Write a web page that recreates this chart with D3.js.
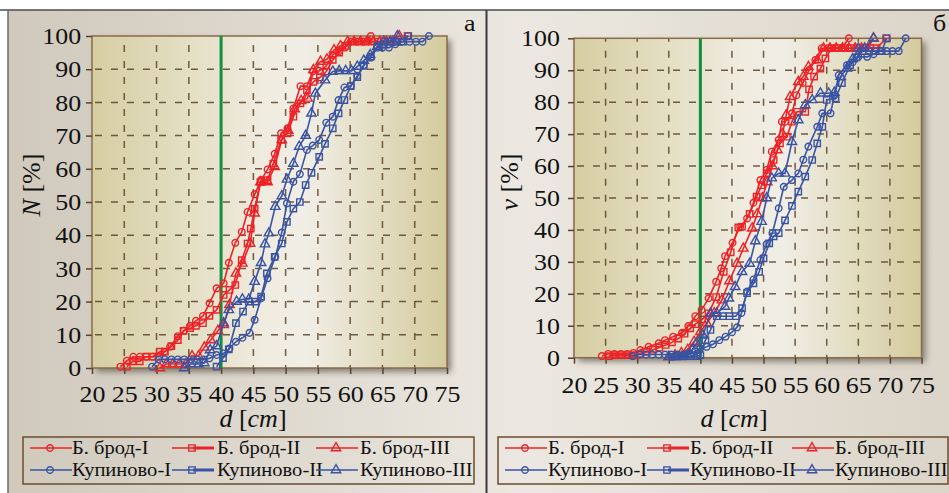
<!DOCTYPE html>
<html>
<head>
<meta charset="utf-8">
<script src="https://cdn.jsdelivr.net/npm/d3@7"></script>
<style>
body { margin: 0; background: #fff; }
svg { display: block; }
</style>
</head>
<body>
<script>
// tick labels
var xTicks = [20, 25, 30, 35, 40, 45, 50, 55, 60, 65, 70, 75];
var yTicks = [0, 10, 20, 30, 40, 50, 60, 70, 80, 90, 100];
var limitD = 40;

var seriesNames = ['Б. брод-I', 'Б. брод-II', 'Б. брод-III', 'Купиново-I', 'Купиново-II', 'Купиново-III'];

// panel a: N [%] vs d [cm]
var bb1N = [[24.4,0.4],[25.4,2.2],[26.4,3.4],[27.4,3.4],[28.4,3.4],[29.4,3.4],[30.4,3.4],[31.2,4.9],[32.1,6.4],[33.3,9.6],[34.2,11.2],[35.2,12.7],[36.1,14.2],[37.2,15.7],[38.2,19.5],[39.3,24],[40.4,25.5],[41.2,31.7],[42.2,37.7],[43.2,41],[44.1,47],[45.2,52.3],[46.2,56.6],[47.2,59.8],[48.3,64.5],[49.3,70.7],[50.3,72.2],[51.2,78.2],[52.3,84.9],[53.3,84.9],[54.2,89.3],[55.2,89.5],[56.3,91],[57.3,94.3],[58.3,95.5],[59.2,96.5],[60.1,98.3],[61.1,98.3],[62.1,98.3],[63.2,100]];
var bb2N = [[25.4,0.4],[26.3,2],[27.4,2],[28.4,3.4],[29.4,3.4],[30.5,4.9],[31.3,4.9],[32.3,6.6],[33.3,8.4],[34.2,11.2],[35.2,12],[36.1,12.7],[37.2,13.5],[38.2,15.7],[39.3,17.5],[40.4,22],[41.3,23.5],[42.2,25],[43.2,32.5],[44.1,37.5],[44.6,42],[45.2,48],[46.1,56],[47.2,56.6],[48.1,61.6],[49.3,68.7],[50.3,70.7],[51.2,75.7],[52.3,79.7],[53.3,83.7],[54.3,86.2],[55.3,87.5],[56.3,89.3],[57.3,92.8],[58.3,95],[59.3,97],[60.3,98.3],[61.3,98.3],[62.3,98.3],[63.3,98.3],[64.3,98.3],[65.3,98.3],[66.3,98.3],[67.3,98.3],[68.9,100]];
var bb3N = [[30.5,0],[31.5,1.2],[32.5,1.2],[33.5,1.2],[34.5,1.2],[35.5,3.6],[36.5,3.6],[37.4,6.2],[38.4,8.4],[39.5,11.2],[40.4,13],[41.3,19],[42.3,28.5],[43.3,31.5],[44.5,37.5],[45.2,46.6],[46.1,56],[47.2,56],[48.3,60.6],[49.4,68.7],[50.4,71.5],[51.4,78],[52.4,80.5],[53.4,81.2],[54.3,89.8],[55.4,92.3],[56.4,93],[57.5,95.8],[58.5,97],[59.6,98.3],[60.6,98.3],[61.6,98.3],[62.6,98.3],[63.6,98.3],[64.6,98.3],[65.6,98.3],[66.6,98.3],[67.6,100]];
var ku1N = [[29.3,0.4],[30.3,2.6],[31.3,2.6],[32.3,2.6],[33.3,2.6],[34.3,2.6],[35.3,2.6],[36.3,2.6],[37.3,2.6],[38.2,2.9],[39.3,3.9],[40.4,4.4],[41.3,5.9],[42.3,7.9],[43.3,9.1],[44.4,10.6],[45.2,14.5],[46.2,21],[47.2,27],[48.4,33.5],[49.4,40.8],[50.2,49.6],[51.2,56.1],[52.2,58.4],[53.3,65.7],[54.2,67],[55.2,68.7],[56.3,73.9],[57.3,75.7],[58.2,80.7],[59.1,84.5],[60.1,85],[61.1,88],[62.1,91.3],[63.2,93.5],[64.2,96.5],[65,96.5],[66,96.5],[67,97.5],[68,98.3],[69.2,98.3],[70.2,98.3],[71.2,98.3],[72.2,100]];
var ku2N = [[39.3,0.4],[40.3,3],[41.2,5.6],[42.3,13.5],[43.4,17],[44.3,20],[45.3,20],[46.2,21.5],[47.1,28.5],[48.3,33.5],[49.4,37.5],[50.2,44],[51.2,48],[52.2,50],[53.1,55.1],[54,58.8],[55.2,63.6],[56.1,67.5],[57.3,72.2],[58.2,76.7],[59.1,80.7],[60.1,84.9],[61.1,87.6],[62.1,91],[63.2,93.8],[64.2,96.8],[65.2,97.5],[66.2,98.3],[67.2,98.3],[68.2,98.3],[69,100]];
var ku3N = [[34.3,0],[35.3,1.2],[36.5,1.2],[37.4,1.5],[38.3,5.4],[39.3,6.6],[40.4,13.5],[41.2,17.5],[42.4,20],[43.3,20.7],[44.3,20.7],[45.2,26],[46.2,31.7],[46.8,37.3],[47.4,40.6],[48.4,48.6],[49.4,51.8],[50.2,56.8],[51.2,61.6],[52.1,66.7],[53.1,70],[54,76.7],[54.6,82.7],[56.1,86.7],[57.3,89.3],[58.3,89.5],[59.3,89.5],[60.2,89.5],[61.1,90.8],[62.1,92.6],[63.1,94.3],[64.2,96.8],[65.2,98.3],[66.2,98.3],[67.3,100]];

// panel б: v [%] vs d [cm]
var bb1V = [[24.4,0.5],[25.4,1.2],[26.4,1.2],[27.4,1.2],[28.4,1.2],[29.4,1.5],[30.5,2.4],[31.8,3.4],[33.4,4.5],[34.4,5.5],[35.7,6.6],[37.1,7.8],[38.1,9.9],[39.2,13],[40.2,15],[41.3,18.6],[42.5,23.8],[43.3,28],[43.9,31.8],[45.1,36],[46.3,41],[47.4,43.6],[48.4,48.5],[49.5,55.6],[50.5,58.8],[51.3,64.5],[52.4,68.2],[52.9,73.9],[53.4,73.9],[54.5,76.5],[55.2,82.2],[56.2,86],[57.2,90],[58.2,93.2],[59.2,96.9],[60.2,96.9],[61.4,97],[62.4,97],[63.5,100]];
var bb2V = [[25.5,0.5],[26.5,0.8],[27.5,0.8],[28.5,0.8],[29.5,0.8],[30.5,1.2],[31.5,1.8],[32.5,2.5],[33.5,3.2],[34.5,4],[35.5,4.8],[36.5,6],[37.5,7.5],[38.4,9.2],[39.2,10.5],[40.3,12],[41.3,13.9],[42.5,19],[43.7,26.9],[44.8,33],[46,40.8],[46.6,41],[47.8,45],[48.9,50.4],[49.7,54],[50.5,57.7],[51.6,61.9],[52.6,67.1],[53.7,69.2],[54.5,73.9],[55.3,77],[56.6,77],[57.2,84],[58,88],[59,90.5],[59.8,93.7],[60.8,96.9],[61.9,96.9],[62.9,96.9],[63.9,96.9],[64.9,96.9],[65.9,96.9],[66.9,96.9],[67.9,96.9],[69.4,100]];
var bb3V = [[35,0.3],[36,0.8],[37,1.5],[38,2.5],[39,5],[40,8.1],[41,10.8],[42.2,14],[43.4,18],[44.6,24],[45.8,29.5],[46.8,34.2],[48.2,40.5],[49,45],[49.8,50],[50.6,55],[51.4,60],[52.2,65],[53,70],[53.6,76],[54.2,81.7],[55.5,86.4],[56.3,88],[57.1,91.1],[58.5,93.2],[59.5,96.9],[60.5,96.9],[61.5,96.9],[62.5,96.9],[63.5,96.9],[64.5,96.9],[65.5,96.9],[66.5,96.9],[67.4,100]];
var ku1V = [[29.3,0.5],[30.4,1],[31.4,1],[32.4,1],[33.4,1],[34.4,1],[35.4,1],[36.4,1],[37.4,1],[38.4,1.2],[39.2,2],[40,3],[41,3.4],[42,4.2],[43,5.5],[44,6.6],[45,8],[45.8,9.5],[46.5,14],[47.4,20.7],[48.4,24.5],[49.5,30.6],[50.5,35.6],[51.4,39],[52.4,46.8],[53.2,53.5],[54.5,55.6],[55.5,57.7],[56.3,62],[57.1,66.1],[58.5,72.3],[59.3,76.5],[60.6,76.5],[61.2,82],[61.9,88.5],[63.2,91.6],[64.1,92.5],[65,94.2],[66.4,94.2],[67.4,95],[68.5,96],[69.5,96],[70.4,96],[71.4,96],[72.5,100]];
var ku2V = [[35.5,0.3],[36.5,0.5],[37.5,0.5],[38.5,0.5],[39.5,0.5],[40,0.8],[40.8,5.5],[41.6,8.7],[42.6,13],[43.6,13],[44.6,13],[45.6,13],[46.6,15.5],[47.4,20.2],[48.4,23.3],[49.3,26.9],[50,31.1],[50.9,35.8],[51.6,38],[52.4,39],[53.4,43],[54.5,47.5],[55.5,52],[56.6,56.7],[57.7,61.9],[58.5,67.1],[59.3,72.3],[60,80.7],[61.4,81.2],[62.4,86],[63.7,91.6],[64.7,94],[65.7,96],[66.7,96],[67.7,96],[68.7,96],[69.5,100]];
var ku3V = [[35,0.3],[36,0.3],[37,0.3],[38,1],[38.7,2.4],[39.4,4.5],[40.4,7],[41.6,13.9],[42.6,13.9],[43.9,16],[44.5,18.6],[45.5,22.2],[46.6,26.9],[47.8,29.5],[48.7,36.5],[49.7,42.6],[50.5,50],[51.3,56.2],[52.4,57.7],[53.4,57.7],[54.5,67.6],[55.5,74.4],[56.6,79.1],[57.7,80.7],[59,82.8],[60.3,82.8],[61.2,83],[62.2,88],[63.2,90.6],[64.1,93.5],[65,96.9],[66,96.9],[67.4,100]];

var seriesColors = ['#ee2226', '#ee2226', '#ee2226', '#3953a4', '#3953a4', '#3953a4'];
var seriesSymbols = [d3.symbolCircle, d3.symbolSquare, d3.symbolTriangle, d3.symbolCircle, d3.symbolSquare, d3.symbolTriangle];
var symbolSizes = [34, 40, 38, 34, 40, 38];

var FONT = "'Liberation Serif', 'Times New Roman', serif";
var SX = 1.08; // the picture is a bit wider than tall
var BROWN = '#5b4228';

var svg = d3.select('body').append('svg')
  .attr('width', 949)
  .attr('height', 493);

var defs = svg.append('defs');

var bg = defs.append('linearGradient').attr('id', 'panelBg');
bg.append('stop').attr('offset', '0%').attr('stop-color', '#d0c9bc');
bg.append('stop').attr('offset', '55%').attr('stop-color', '#ece8e1');
bg.append('stop').attr('offset', '100%').attr('stop-color', '#dbd4c8');

var pg = defs.append('linearGradient').attr('id', 'plotBg');
pg.append('stop').attr('offset', '0%').attr('stop-color', '#d6cea2');
pg.append('stop').attr('offset', '48%').attr('stop-color', '#efebdf');
pg.append('stop').attr('offset', '60%').attr('stop-color', '#f1eee6');
pg.append('stop').attr('offset', '100%').attr('stop-color', '#d4cb9d');

var sh = defs.append('filter').attr('id', 'shadow')
  .attr('x', '-5%').attr('y', '-5%').attr('width', '115%').attr('height', '115%');
sh.append('feDropShadow')
  .attr('dx', 4).attr('dy', 4).attr('stdDeviation', 3)
  .attr('flood-color', '#4a4038').attr('flood-opacity', 0.6);

svg.append('rect').attr('x', 8).attr('y', 10).attr('width', 941).attr('height', 483).attr('fill', 'url(#panelBg)');

var panels = [
  { x0: 92, x1: 447, y0: 368, y1: 36, data: [bb1N, bb2N, bb3N, ku1N, ku2N, ku3N],
    yLetter: 'N', letter: 'а', letterX: 464, labelEnd: -10, titleX: 40, titleY: 185, dTitleX: 253, dTitleY: 427, tickLabelY: 34,
    legend: { x: 23, y: 437, w: 451, h: 47, cols: [30, 172, 316], textX: [72, 217, 360] } },
  { x0: 574, x1: 921.5, y0: 357.7, y1: 38.3, data: [bb1V, bb2V, bb3V, ku1V, ku2V, ku3V],
    yLetter: 'v', letter: 'б', letterX: 933, labelEnd: -13, titleX: 518, titleY: 182, dTitleX: 734, dTitleY: 427, tickLabelY: 35,
    legend: { x: 498, y: 437, w: 450, h: 47, cols: [505, 647, 792], textX: [548, 690, 835] } }
];

panels.forEach(drawPanel);

svg.append('line').attr('x1', 0).attr('x2', 949).attr('y1', 10).attr('y2', 10).attr('stroke', '#4d4d4d').attr('stroke-width', 1.5);
svg.append('line').attr('x1', 8).attr('x2', 8).attr('y1', 10).attr('y2', 493).attr('stroke', '#6a6a6a').attr('stroke-width', 1.5);
svg.append('line').attr('x1', 486.5).attr('x2', 486.5).attr('y1', 10).attr('y2', 493).attr('stroke', '#3a3a3a').attr('stroke-width', 2);

function drawPanel(p) {
  var g = svg.append('g');

  var x = d3.scaleLinear().domain([20, 75]).range([p.x0, p.x1]);
  var y = d3.scaleLinear().domain([0, 100]).range([p.y0, p.y1]);

  // plot area
  g.append('rect')
    .attr('x', p.x0).attr('y', p.y1)
    .attr('width', p.x1 - p.x0).attr('height', p.y0 - p.y1)
    .attr('fill', 'url(#plotBg)')
    .attr('filter', 'url(#shadow)');

  // dashed grid
  g.selectAll('.vgrid').data(xTicks.slice(1, -1)).enter().append('line')
    .attr('x1', function (d) { return x(d); }).attr('x2', function (d) { return x(d); })
    .attr('y1', p.y0).attr('y2', p.y1)
    .attr('stroke', BROWN).attr('stroke-width', 1.5).attr('stroke-opacity', 0.85)
    .attr('stroke-dasharray', '7,9').attr('stroke-dashoffset', 4);
  g.selectAll('.hgrid').data(yTicks.slice(1, -1)).enter().append('line')
    .attr('x1', p.x0).attr('x2', p.x1)
    .attr('y1', function (d) { return y(d); }).attr('y2', function (d) { return y(d); })
    .attr('stroke', BROWN).attr('stroke-width', 1.5).attr('stroke-opacity', 0.85)
    .attr('stroke-dasharray', '7,9').attr('stroke-dashoffset', -3);

  g.append('rect')
    .attr('x', p.x0).attr('y', p.y1)
    .attr('width', p.x1 - p.x0).attr('height', p.y0 - p.y1)
    .attr('fill', 'none').attr('stroke', '#8a6b4a').attr('stroke-width', 1.5);

  // axes
  var yAxis = d3.axisLeft(y).tickValues(yTicks).tickSize(6).tickPadding(4);
  var ya = g.append('g').attr('transform', 'translate(' + p.x0 + ',0)').call(yAxis);
  var xAxis = d3.axisBottom(x).tickValues(xTicks).tickSize(6);
  var xa = g.append('g').attr('transform', 'translate(0,' + p.y0 + ')').call(xAxis);
  [ya, xa].forEach(function (a) {
    a.select('.domain').remove();
    a.selectAll('.tick line').attr('stroke', BROWN).attr('stroke-width', 1.5);
    a.selectAll('.tick text')
      .attr('fill', '#111')
      .style('font-family', FONT)
      .style('font-size', '24px');
  });
  ya.selectAll('.tick text').attr('x', p.labelEnd).attr('transform', 'scale(' + SX + ',1)');
  xa.selectAll('.tick text').attr('y', p.tickLabelY).attr('dy', 0).attr('transform', 'scale(' + SX + ',1)');

  // limit line d = 40 cm
  g.append('line')
    .attr('x1', x(limitD)).attr('x2', x(limitD))
    .attr('y1', y(0)).attr('y2', y(100))
    .attr('stroke', '#13903f').attr('stroke-width', 3);

  // series
  var line = d3.line().x(function (d) { return x(d[0]); }).y(function (d) { return y(d[1]); });
  p.data.forEach(function (s, i) {
    var sg = g.append('g');
    sg.append('path').datum(s)
      .attr('d', line)
      .attr('fill', 'none')
      .attr('stroke', seriesColors[i])
      .attr('stroke-width', 1.6);
    sg.selectAll('.mk').data(s).enter().append('path')
      .attr('d', d3.symbol(seriesSymbols[i], symbolSizes[i]))
      .attr('transform', function (d) { return 'translate(' + x(d[0]) + ',' + y(d[1]) + ')'; })
      .attr('fill', 'none')
      .attr('stroke', seriesColors[i])
      .attr('stroke-width', 1.4);
  });

  // axis titles
  var dt = g.append('text')
    .attr('x', p.dTitleX).attr('y', p.dTitleY)
    .attr('text-anchor', 'middle')
    .style('font-family', FONT).style('font-size', '26px').attr('fill', '#111');
  dt.append('tspan').style('font-style', 'italic').text('d');
  dt.append('tspan').text(' [');
  dt.append('tspan').style('font-style', 'italic').text('cm');
  dt.append('tspan').text(']');

  var yt = g.append('text')
    .attr('transform', 'translate(' + p.titleX + ',' + p.titleY + ') rotate(-90)')
    .attr('text-anchor', 'middle')
    .style('font-family', FONT).style('font-size', '26px').attr('fill', '#111');
  yt.append('tspan').style('font-style', 'italic').text(p.yLetter);
  yt.append('tspan').text(' [%]');

  g.append('text')
    .attr('transform', 'translate(' + p.letterX + ',31) scale(' + SX + ',1)')
    .style('font-family', FONT).style('font-size', '24px').attr('fill', '#111')
    .text(p.letter);

  // legend
  var L = p.legend;
  g.append('rect')
    .attr('x', L.x).attr('y', L.y).attr('width', L.w).attr('height', L.h)
    .attr('fill', 'none').attr('stroke', '#6b4c2e').attr('stroke-width', 1.5);
  seriesNames.forEach(function (name, i) {
    var col = i % 3, row = Math.floor(i / 3);
    var ly = L.y + 11 + row * 22;
    var lx = L.cols[col];
    var lg = g.append('g');
    lg.append('line')
      .attr('x1', lx).attr('x2', lx + 42).attr('y1', ly).attr('y2', ly)
      .attr('stroke', seriesColors[i]).attr('stroke-width', 1.6);
    if (col === 1) {
      lg.append('line')
        .attr('x1', lx + 21).attr('x2', lx + 42).attr('y1', ly).attr('y2', ly)
        .attr('stroke', seriesColors[i]).attr('stroke-width', 3);
    }
    lg.append('path')
      .attr('d', d3.symbol(seriesSymbols[i], symbolSizes[i]))
      .attr('transform', 'translate(' + (lx + 20) + ',' + ly + ')')
      .attr('fill', 'none').attr('stroke', seriesColors[i]).attr('stroke-width', 1.4);
    lg.append('text')
      .attr('transform', 'translate(' + L.textX[col] + ',' + (ly + 6) + ') scale(' + SX + ',1)')
      .style('font-family', FONT).style('font-size', '19px').attr('fill', '#111')
      .text(name);
  });
}
</script>
</body>
</html>
